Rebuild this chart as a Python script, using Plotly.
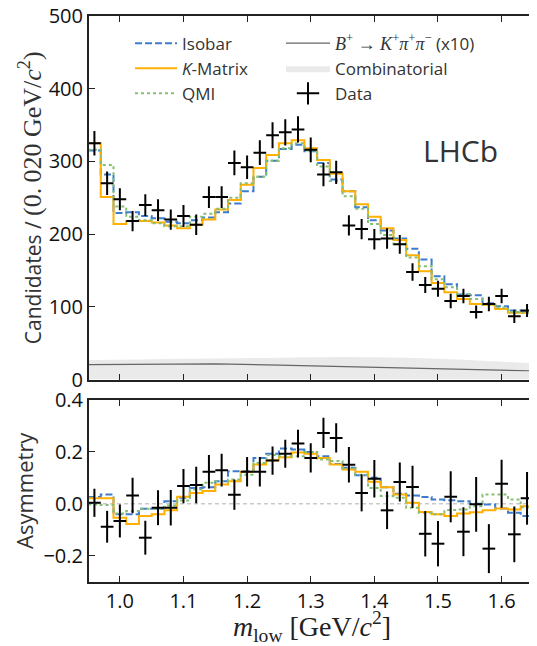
import numpy as np
import plotly.graph_objects as go

# ---------------- data ----------------
bin_width = 0.02
bin_centers = np.round(np.arange(0.96, 1.6401, bin_width), 3)

data_top = [325, 270, 248, 218, 240, 233, 220, 225, 213, 251, 251, 298, 292, 312, 336,
            340, 344, 316, 282, 285, 212, 207, 193, 194, 186, 148, 130, 125, 108, 115,
            93, 104, 115, 87, 95]
data_top_err = [17, 16, 15, 14, 15, 15, 14, 15, 14, 15, 15, 17, 16, 17, 18, 18, 18, 17,
                16, 16, 14, 14, 14, 14, 13, 12, 11, 11, 10, 10, 9, 10, 10, 9, 9]

isobar_top = [315, 282, 229, 230, 225, 222, 217, 215, 219, 223, 230, 242, 259, 279, 301,
              317, 323, 314, 298, 275, 259, 237, 219, 205, 194, 180, 165, 142, 131, 117,
              116, 105, 101, 95, 94]
kmatrix_top = [325, 251, 214, 218, 218, 216, 212, 208, 213, 220, 234, 247, 268, 291, 309,
               325, 329, 318, 302, 283, 259, 241, 224, 208, 192, 171, 149, 133, 120, 111,
               104, 103, 97, 92, 92]
qmi_top = [316, 295, 238, 224, 219, 215, 211, 211, 224, 228, 235, 250, 270, 279, 301,
           318, 325, 315, 293, 273, 252, 235, 214, 199, 186, 168, 156, 138, 127, 117,
           111, 103, 99, 93, 92]

comb_x = [0.95, 1.05, 1.15, 1.25, 1.35, 1.45, 1.55, 1.65]
comb_y = [27, 28, 29, 30, 31, 30, 27, 22]
bkpp_x = [0.95, 1.05, 1.15, 1.25, 1.35, 1.45, 1.55, 1.65]
bkpp_y = [20.5, 21, 21.5, 20, 18, 16, 14, 12]

data_asym = [0.004, -0.088, -0.066, 0.032, -0.130, -0.015, -0.015, 0.068, 0.072, 0.123,
             0.129, 0.035, 0.123, 0.123, 0.166, 0.192, 0.231, 0.176, 0.272, 0.253,
             0.150, 0.042, 0.096, -0.025, 0.084, 0.065, -0.115, -0.153, 0.027, -0.107,
             -0.002, -0.172, 0.077, -0.117, 0.021]
data_asym_err = [0.054, 0.061, 0.063, 0.068, 0.065, 0.067, 0.068, 0.066, 0.070, 0.064,
                 0.063, 0.058, 0.057, 0.057, 0.054, 0.054, 0.053, 0.056, 0.058, 0.056,
                 0.068, 0.071, 0.072, 0.072, 0.075, 0.081, 0.087, 0.087, 0.098, 0.094,
                 0.105, 0.094, 0.092, 0.107, 0.101]

isobar_asym = [0.026, 0.036, -0.040, -0.040, -0.019, -0.019, 0.010, 0.023, 0.061, 0.064,
               0.087, 0.125, 0.125, 0.176, 0.192, 0.212, 0.208, 0.199, 0.183, 0.153,
               0.138, 0.110, 0.100, 0.064, 0.039, 0.032, 0.026, 0.017, 0.014, 0.010,
               0.000, -0.003, -0.018, -0.034, -0.047]
kmatrix_asym = [0.021, 0.021, -0.053, -0.077, -0.047, -0.040, -0.025, 0.027, 0.042, 0.049,
                0.074, 0.087, 0.123, 0.151, 0.167, 0.179, 0.197, 0.192, 0.176, 0.151,
                0.132, 0.123, 0.085, 0.064, 0.036, 0.004, -0.031, -0.040, -0.047, -0.037,
                -0.032, -0.025, -0.018, -0.022, -0.009]
qmi_asym = [-0.003, -0.005, -0.037, -0.028, -0.019, -0.019, -0.006, 0.013, 0.055, 0.081,
            0.087, 0.093, 0.112, 0.157, 0.187, 0.183, 0.183, 0.199, 0.170, 0.164,
            0.136, 0.112, 0.061, 0.030, 0.023, -0.015, -0.034, -0.040, -0.024, -0.022,
            -0.009, 0.036, 0.036, 0.017, -0.013]

top_ticks = [0, 100, 200, 300, 400, 500]
asym_ticks = [-0.2, 0.0, 0.2, 0.4]
x_ticks = [1.0, 1.1, 1.2, 1.3, 1.4, 1.5, 1.6]

# ---------------- styles ----------------
C_ISO = "#3f7ccc"
C_KM = "#ffb000"
C_QMI = "#86bf72"
SANS = "Open Sans"
SERIF = "Liberation Serif"

edges = np.append(bin_centers - bin_width / 2, bin_centers[-1] + bin_width / 2)


def steps(vals):
    return list(vals) + [vals[-1]]


fig = go.Figure()

# --- top panel ---
fig.add_trace(go.Scatter(x=comb_x, y=comb_y, mode="lines", line=dict(width=0, shape="spline"),
                         fill="tozeroy", fillcolor="#eaeaea", name="Combinatorial",
                         legend="legend2", legendrank=2, xaxis="x", yaxis="y"))
fig.add_trace(go.Scatter(x=bkpp_x, y=bkpp_y, mode="lines", line=dict(color="#666666", width=1.2),
                         name="<span style='font-family:Liberation Serif;font-size:18px'><i>B</i><sup>+</sup> → "
                              "<i>K</i><sup>+</sup><i>π</i><sup>+</sup><i>π</i><sup>−</sup></span> (x10)",
                         legend="legend2", legendrank=1, xaxis="x", yaxis="y"))
fig.add_trace(go.Scatter(x=edges, y=steps(isobar_top), mode="lines",
                         line=dict(color=C_ISO, width=2, dash="7px,3px", shape="hv"),
                         name="Isobar", legend="legend", legendrank=1, xaxis="x", yaxis="y"))
fig.add_trace(go.Scatter(x=edges, y=steps(kmatrix_top), mode="lines",
                         line=dict(color=C_KM, width=2, shape="hv"),
                         name="<i>K</i>-Matrix", legend="legend", legendrank=2, xaxis="x", yaxis="y"))
fig.add_trace(go.Scatter(x=edges, y=steps(qmi_top), mode="lines",
                         line=dict(color=C_QMI, width=2, dash="3px,3px", shape="hv"),
                         name="QMI", legend="legend", legendrank=3, xaxis="x", yaxis="y"))
fig.add_trace(go.Scatter(x=bin_centers, y=data_top, mode="markers",
                         marker=dict(size=1, color="black", opacity=0),
                         error_y=dict(type="data", array=data_top_err, color="black", thickness=2, width=0),
                         error_x=dict(type="constant", value=bin_width / 2, color="black", thickness=2, width=0),
                         showlegend=False, xaxis="x", yaxis="y"))
fig.add_trace(go.Scatter(x=[None], y=[None], mode="markers", name="Data", legend="legend2",
                         legendrank=3,
                         marker=dict(symbol="cross-thin-open", size=18, color="black",
                                     line=dict(color="black", width=2))))

# --- bottom panel ---
fig.add_trace(go.Scatter(x=edges, y=steps(isobar_asym), mode="lines",
                         line=dict(color=C_ISO, width=2, dash="7px,3px", shape="hv"),
                         showlegend=False, xaxis="x2", yaxis="y2"))
fig.add_trace(go.Scatter(x=edges, y=steps(kmatrix_asym), mode="lines",
                         line=dict(color=C_KM, width=2, shape="hv"),
                         showlegend=False, xaxis="x2", yaxis="y2"))
fig.add_trace(go.Scatter(x=edges, y=steps(qmi_asym), mode="lines",
                         line=dict(color=C_QMI, width=2, dash="3px,3px", shape="hv"),
                         showlegend=False, xaxis="x2", yaxis="y2"))
fig.add_trace(go.Scatter(x=bin_centers, y=data_asym, mode="markers",
                         marker=dict(size=1, color="black", opacity=0),
                         error_y=dict(type="data", array=data_asym_err, color="black", thickness=2, width=0),
                         error_x=dict(type="constant", value=bin_width / 2, color="black", thickness=2, width=0),
                         showlegend=False, xaxis="x2", yaxis="y2"))

fig.add_shape(type="line", xref="x2 domain", yref="y2", x0=0, x1=1, y0=0, y1=0,
              line=dict(color="#b0b0b0", width=1, dash="4px,3px"), layer="below")

axis_common = dict(showline=True, linecolor="#222222", linewidth=2, mirror="ticks",
                   ticks="inside", ticklen=6, tickwidth=1.3, tickcolor="#222222",
                   showgrid=False, zeroline=False, automargin=False, ticklabeloverflow="allow",
                   tickfont=dict(family=SANS, size=20, color="#111111"))

xr = [0.9515, 1.6525]
# the page body adds an 8px offset, so the figure is sized/placed to compensate
fig.update_layout(
    width=529, height=638,
    margin=dict(l=81, r=2, t=8, b=64, autoexpand=False),
    paper_bgcolor="white", plot_bgcolor="white",
    font=dict(family=SANS, color="#222222"),
    xaxis=dict(axis_common, domain=[0, 1], range=xr, tickvals=x_ticks, showticklabels=False,
               anchor="y", matches="x2"),
    yaxis=dict(axis_common, domain=[0.3576, 1], range=[0, 500], tickvals=top_ticks, anchor="x",
               title=dict(text="Candidates / <span style='font-family:Liberation Serif;font-size:26px'>"
                               "(0.\u2009020 GeV/<i>c</i><sup>2</sup>)</span>",
                          font=dict(family=SANS, size=21, color="#333333"), standoff=1)),
    xaxis2=dict(axis_common, domain=[0, 1], range=xr, tickvals=x_ticks, tickformat=".1f", anchor="y2",
                title=dict(text="<i>m</i><sub>low</sub> [GeV/<i>c</i><sup>2</sup>]",
                           font=dict(family=SERIF, size=28, color="#222222"), standoff=3)),
    yaxis2=dict(axis_common, domain=[0, 0.3223], range=[-0.3, 0.4], tickvals=asym_ticks, tickformat=".1f",
                anchor="x2",
                title=dict(text="Asymmetry", font=dict(family=SANS, size=22, color="#333333"), standoff=4)),
    legend=dict(x=0.092, y=0.983, xanchor="left", yanchor="top", bgcolor="rgba(0,0,0,0)",
                font=dict(family=SANS, size=17, color="#333333"), itemwidth=42, traceorder="normal"),
    legend2=dict(x=0.4305, y=0.983, xanchor="left", yanchor="top", bgcolor="rgba(0,0,0,0)",
                 font=dict(family=SANS, size=17, color="#333333"), itemwidth=44, traceorder="normal"),
    annotations=[dict(text="LHCb", xref="x domain", yref="y domain", x=0.922, y=0.629,
                      xanchor="right", yanchor="middle", showarrow=False,
                      font=dict(family=SANS, size=30, color="#333333"))],
)

fig.write_html("out.html")
